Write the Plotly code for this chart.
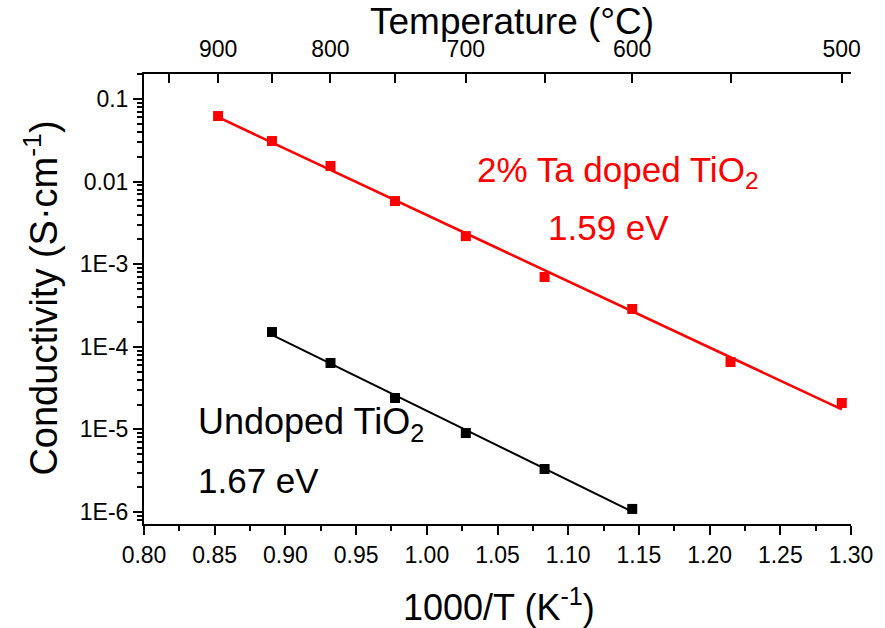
import numpy as np
import plotly.graph_objects as go

# ---------------- data ----------------
ta_x = [0.8524, 0.8905, 0.9319, 0.9775, 1.0276, 1.0833, 1.1453, 1.2148, 1.2935]
ta_sigma = [0.0622, 0.0310, 0.01546, 0.00582, 0.00219, 7.0e-4, 2.87e-4, 6.55e-5, 2.09e-5]

un_x = [0.8905, 0.9319, 0.9775, 1.0276, 1.0833, 1.1453]
un_sigma = [1.51e-4, 6.37e-5, 2.40e-5, 9.04e-6, 3.32e-6, 1.09e-6]

x_ticks = [0.80, 0.85, 0.90, 0.95, 1.00, 1.05, 1.10, 1.15, 1.20, 1.25, 1.30]
y_ticks = [1e-1, 1e-2, 1e-3, 1e-4, 1e-5, 1e-6]
y_ticktext = ["0.1", "0.01", "1E-3", "1E-4", "1E-5", "1E-6"]
temp_major_C = [900, 800, 700, 600, 500]
temp_minor_C = [950, 850, 750, 650, 550]

FONT = "Arial, Liberation Sans, Arimo, sans-serif"

def fit_line(x, s):
    x = np.asarray(x)
    k, b = np.polyfit(x, np.log10(s), 1)
    xs = np.array([x.min(), x.max()])
    return xs, 10 ** (k * xs + b)

fig = go.Figure()

rx, ry = fit_line(ta_x, ta_sigma)
fig.add_trace(go.Scatter(x=rx, y=ry, mode="lines", line=dict(color="#ff0000", width=2.5),
                         showlegend=False, hoverinfo="skip"))
fig.add_trace(go.Scatter(x=ta_x, y=ta_sigma, mode="markers",
                         marker=dict(symbol="square", size=10, color="#ff0000"), showlegend=False))

bx, by = fit_line(un_x, un_sigma)
fig.add_trace(go.Scatter(x=bx, y=by, mode="lines", line=dict(color="black", width=2),
                         showlegend=False, hoverinfo="skip"))
fig.add_trace(go.Scatter(x=un_x, y=un_sigma, mode="markers",
                         marker=dict(symbol="square", size=10, color="black"), showlegend=False))

# dummy trace for the top axis
fig.add_trace(go.Scatter(x=[0.8, 1.3], y=[1e-3, 1e-3], xaxis="x2", mode="markers",
                         marker=dict(opacity=0), showlegend=False, hoverinfo="skip"))

t2x = lambda T: 1000.0 / (T + 273.15)

axis_common = dict(showgrid=False, zeroline=False, showline=True, linecolor="black",
                   linewidth=2, tickcolor="black", tickwidth=2,
                   tickfont=dict(family=FONT, size=23, color="black"))

fig.update_layout(
    width=885, height=628,
    margin=dict(l=144, r=26, t=74, b=104),
    plot_bgcolor="white", paper_bgcolor="white",
    font=dict(family=FONT, color="black"),
    xaxis=dict(range=[0.8, 1.3], tickmode="array", tickvals=x_ticks,
               ticktext=[f"{v:.2f}" for v in x_ticks],
               ticks="outside", ticklen=9,
               minor=dict(ticks="outside", ticklen=5, tickwidth=2, tickcolor="black",
                          tickmode="array", tickvals=[v + 0.025 for v in x_ticks[:-1]]),
               **axis_common),
    yaxis=dict(type="log", range=[-6.145, -0.697], tickmode="array", tickvals=y_ticks,
               ticktext=y_ticktext, ticks="outside", ticklen=9,
               minor=dict(ticks="outside", ticklen=5, tickwidth=1.5, tickcolor="black",
                          tickmode="array",
                          tickvals=[m * 10.0 ** e for e in range(-7, 0) for m in range(2, 10)]),
               **axis_common),
    xaxis2=dict(overlaying="x", side="top", anchor="y", range=[0.8, 1.3],
                tickmode="array", tickvals=[t2x(t) for t in temp_major_C],
                ticktext=[str(t) for t in temp_major_C],
                ticks="inside", ticklen=9, ticklabelstandoff=6,
                minor=dict(ticks="inside", ticklen=9, tickwidth=2, tickcolor="black",
                           tickmode="array", tickvals=[t2x(t) for t in temp_minor_C]),
                **axis_common),
)

ann = [
    dict(text="Conductivity (S·cm<sup>-1</sup>)", x=-0.145, y=0.502, textangle=-90,
         font=dict(size=38, color="black")),
    dict(text="1000/T (K<sup>-1</sup>)", x=0.502, y=-0.18, font=dict(size=36, color="black")),
    dict(text="Temperature (°C)", x=0.52, y=1.1156, font=dict(size=37, color="black")),
    dict(text="2% Ta doped TiO<sub>2</sub>", x=0.4685, y=0.782, xanchor="left",
         font=dict(size=35, color="#ff0000")),
    dict(text="1.59 eV", x=0.569, y=0.658, xanchor="left", font=dict(size=35, color="#ff0000")),
    dict(text="Undoped TiO<sub>2</sub>", x=0.0741, y=0.222, xanchor="left",
         font=dict(size=36, color="black")),
    dict(text="1.67 eV", x=0.0741, y=0.0956, xanchor="left", font=dict(size=35, color="black")),
]
for a in ann:
    a.setdefault("xanchor", "center")
    a.update(xref="paper", yref="paper", showarrow=False, yanchor="middle")
    a["font"]["family"] = FONT
fig.update_layout(annotations=ann)

fig.write_html("out.html")
